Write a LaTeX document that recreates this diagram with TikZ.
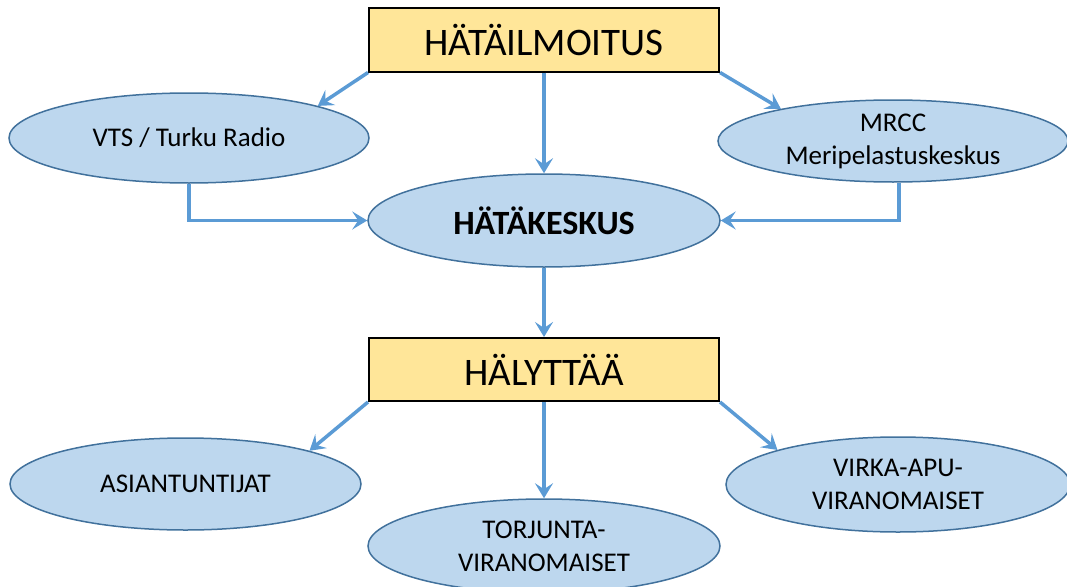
\documentclass[tikz,border=0pt]{standalone}
\usepackage{fontspec}
\setmainfont{Carlito}
\usetikzlibrary{arrows.meta,shapes.geometric}

\definecolor{boxfill}{HTML}{FFE699}
\definecolor{ellfill}{HTML}{BDD7EE}
\definecolor{elldraw}{HTML}{41719C}
\definecolor{arrowblue}{HTML}{5B9BD5}

\tikzset{
  titlebox/.style={draw=black, line width=2pt, fill=boxfill, rectangle,
    minimum width=350pt, minimum height=63pt, inner sep=0pt,
    font=\fontsize{39}{47}\selectfont},
  bubble/.style={draw=elldraw, line width=1.5pt, fill=ellfill, ellipse,
    inner sep=0pt, align=center, font=\fontsize{27}{33}\selectfont},
  flow/.style={draw=arrowblue, line width=3.5pt,
    -{Stealth[length=15pt,width=18pt,inset=6pt]}},
}

\begin{document}
\begin{tikzpicture}[x=1pt, y=-1pt]
  \useasboundingbox (0,0) rectangle (1067,586);

  % upper row
  \node[titlebox] (alert) at (544,40) {HÄTÄILMOITUS};
  \node[bubble, minimum width=360pt, minimum height=90pt] (vts) at (189,138) {VTS / Turku Radio};
  \node[bubble, minimum width=350pt, minimum height=82pt] (mrcc) at (893,141) {MRCC\\Meripelastuskeskus};
  \node[bubble, minimum width=352pt, minimum height=93pt, font=\fontsize{34}{40}\selectfont\bfseries] (centre) at (544,220.5) {HÄTÄKESKUS};

  % lower row
  \node[titlebox] (notify) at (544,369.5) {HÄLYTTÄÄ};
  \node[bubble, minimum width=351pt, minimum height=92pt] (experts) at (185.5,484) {ASIANTUNTIJAT};
  \node[bubble, minimum width=352pt, minimum height=94pt] (response) at (544,546) {TORJUNTA-\\VIRANOMAISET};
  \node[bubble, minimum width=344pt, minimum height=95pt] (assist) at (898,484.5) {VIRKA-APU-\\VIRANOMAISET};

  % connectors
  \draw[flow] (alert.south west) -- (vts.14);
  \draw[flow] (alert.south) -- (centre.north);
  \draw[flow] (alert.south east) -- (mrcc.164);
  \draw[flow] (vts.south) |- (centre.west);
  \draw[flow] ([xshift=6pt]mrcc.south) |- (centre.east);
  \draw[flow] (centre.south) -- (notify.north);
  \draw[flow] (notify.south west) -- (experts.15);
  \draw[flow] (notify.south) -- (response.north);
  \draw[flow] (notify.south east) -- (assist.164);
\end{tikzpicture}
\end{document}
